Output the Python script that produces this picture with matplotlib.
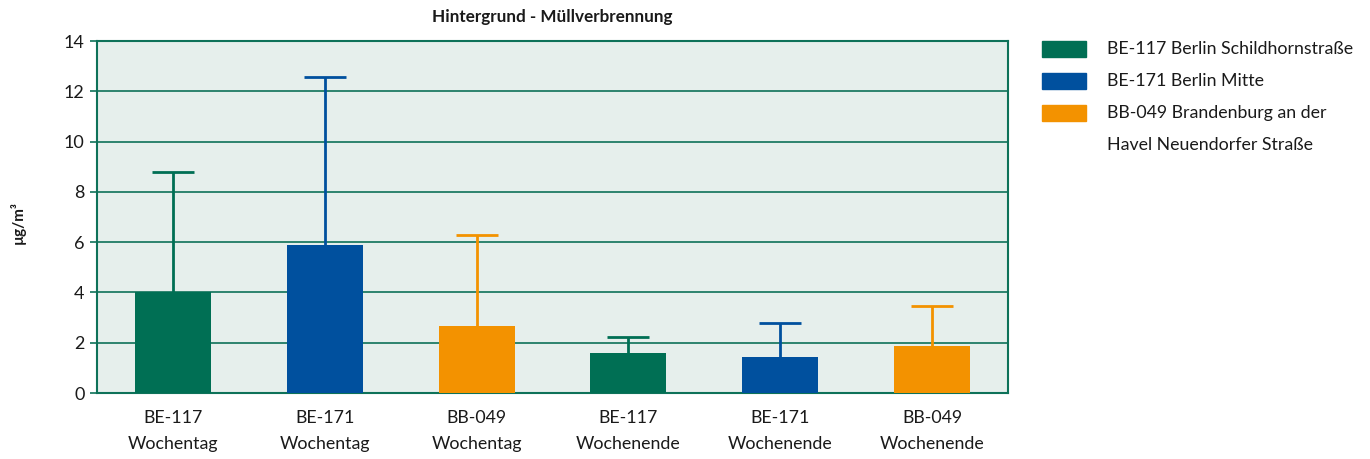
import matplotlib
matplotlib.use("Agg")
import matplotlib.pyplot as plt
from matplotlib.patches import Rectangle
import numpy as np

plt.rcParams['font.family'] = ['Lato', 'DejaVu Sans']

# Data
categories = ["BE-117\nWochentag", "BE-171\nWochentag", "BB-049\nWochentag",
              "BE-117\nWochenende", "BE-171\nWochenende", "BB-049\nWochenende"]
means = [4.0, 5.87, 2.66, 1.61, 1.45, 1.85]
upper_err = [4.77, 6.70, 3.62, 0.60, 1.33, 1.63]
station_idx = [0, 1, 2, 0, 1, 2]
stations = ["BE-117 Berlin Schildhornstraße", "BE-171 Berlin Mitte",
            "BB-049 Brandenburg an der\nHavel Neuendorfer Straße"]
yticks = [0, 2, 4, 6, 8, 10, 12, 14]

station_colors = ["#006F54", "#00509E", "#F39200"]
grid_color = "#0E7259"
bg_color = "#E6EFEC"
text_color = "#1a1a1a"

fig = plt.figure(figsize=(13.7, 4.59), dpi=100)
ax = fig.add_axes([97/1370, 66/459, 911/1370, 352/459])
ax.set_facecolor(bg_color)

x = np.arange(len(categories))
colors = [station_colors[i] for i in station_idx]
ax.bar(x, means, width=0.5, color=colors, zorder=3)
for xi, m, e, c in zip(x, means, upper_err, colors):
    _, caps, _ = ax.errorbar(xi, m, yerr=[[0], [e]], fmt='none', ecolor=c,
                             elinewidth=2, capsize=15, capthick=2, zorder=2)
    # keep only the upper whisker cap
    for cap in caps:
        if np.allclose(cap.get_ydata(), m):
            cap.set_visible(False)

ax.set_xlim(-0.5, len(categories) - 0.5)
ax.set_ylim(0, 14)
ax.set_yticks(yticks)
ax.set_yticklabels([str(t) for t in yticks], fontsize=13, color=text_color)
ax.set_xticks(x)
ax.set_xticklabels(categories, fontsize=12.8, color=text_color, linespacing=1.8)
ax.tick_params(axis='x', length=0, pad=12)
ax.tick_params(axis='y', length=5, width=1.2, color=grid_color, pad=4)
ax.grid(axis='y', color=grid_color, linewidth=1.2, zorder=1)
ax.set_axisbelow(True)
for s in ax.spines.values():
    s.set_color(grid_color)
    s.set_linewidth(1.5)

fig.text(552/1370, 1 - 17/459, "Hintergrund - Müllverbrennung", ha='center',
         va='center', fontsize=12.3, fontweight='bold', color=text_color)
fig.text(18/1370, 1 - 222/459, "µg/m³", rotation=90, ha='center', va='center',
         fontsize=11, fontweight='bold', color=text_color)

# Legend
row_y = [49, 81, 113]
line_step = 32
for lbl, col, yy in zip(stations, station_colors, row_y):
    fig.patches.append(Rectangle((1042/1370, 1 - (yy + 8)/459), 44/1370, 16/459,
                                 transform=fig.transFigure, color=col))
    for k, part in enumerate(lbl.split("\n")):
        fig.text(1107/1370, 1 - (yy + k * line_step)/459, part, ha='left',
                 va='center', fontsize=12.8, color=text_color)

fig.savefig("out.png", dpi=100)
